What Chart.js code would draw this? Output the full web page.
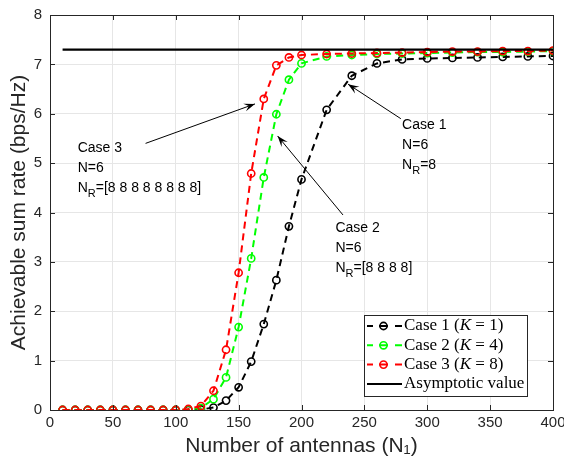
<!DOCTYPE html>
<html>
<head>
<meta charset="utf-8">
<script src="https://cdn.jsdelivr.net/npm/chart.js@4.4.1/dist/chart.umd.min.js"></script>
<style>
  html, body { margin: 0; padding: 0; background: #fff; }
  #wrap { width: 564px; height: 459px; }
</style>
</head>
<body>
<div id="wrap"><canvas id="chart" width="564" height="459"></canvas></div>
<script>
// number of antennas N1
var antennas = [10, 20, 30, 40, 50, 60, 70, 80, 90, 100, 110, 120, 130, 140, 150, 160, 170, 180, 190,
                200, 220, 240, 260, 280, 300, 320, 340, 360, 380, 400];

// achievable sum rate (bps/Hz)
var case1 = [0, 0, 0, 0, 0, 0, 0, 0, 0, 0, 0, 0.01, 0.05, 0.19, 0.46, 0.98, 1.74, 2.63, 3.72,
             4.67, 6.08, 6.77, 7.02, 7.10, 7.12, 7.13, 7.14, 7.15, 7.16, 7.17];
var case2 = [0, 0, 0, 0, 0, 0, 0, 0, 0, 0, 0.01, 0.04, 0.22, 0.66, 1.68, 3.07, 4.71, 5.99, 6.69,
             7.02, 7.16, 7.19, 7.21, 7.22, 7.23, 7.24, 7.25, 7.25, 7.26, 7.27];
var case3 = [0, 0, 0, 0, 0, 0, 0, 0, 0, 0, 0.02, 0.08, 0.39, 1.22, 2.78, 4.79, 6.30, 6.98, 7.14,
             7.19, 7.21, 7.22, 7.23, 7.24, 7.25, 7.26, 7.26, 7.27, 7.27, 7.28];
var asymptote = 7.30;

var seriesNames = ['Case 1 (K = 1)', 'Case 2 (K = 4)', 'Case 3 (K = 8)', 'Asymptotic value'];
var xTicks = [0, 50, 100, 150, 200, 250, 300, 350, 400];
var yTicks = [0, 1, 2, 3, 4, 5, 6, 7, 8];

function pts(vals) {
  return antennas.map(function (x, i) { return { x: x, y: vals[i] }; });
}

function dashed(label, vals, color, order) {
  return {
    label: label,
    data: pts(vals),
    borderColor: color,
    backgroundColor: 'rgba(0,0,0,0)',
    borderWidth: 2,
    borderDash: [7, 5],
    pointStyle: 'circle',
    pointRadius: 3.6,
    pointBorderWidth: 1.6,
    pointBorderColor: color,
    pointBackgroundColor: 'rgba(255,255,255,0)',
    tension: 0,
    order: order
  };
}

// MATLAB-like box, inner ticks, annotations and legend
var decorPlugin = {
  id: 'decor',
  afterDraw: function (chart) {
    var ctx = chart.ctx, a = chart.chartArea;
    var xs = chart.scales.x, ys = chart.scales.y;
    ctx.save();
    ctx.strokeStyle = '#262626';
    ctx.lineWidth = 1;
    ctx.strokeRect(a.left + 0.5, a.top + 0.5, a.right - a.left, a.bottom - a.top);
    xTicks.forEach(function (t) {
      var px = Math.round(xs.getPixelForValue(t)) + 0.5;
      ctx.beginPath();
      ctx.moveTo(px, a.bottom); ctx.lineTo(px, a.bottom - 5);
      ctx.moveTo(px, a.top); ctx.lineTo(px, a.top + 5);
      ctx.stroke();
    });
    yTicks.forEach(function (t) {
      var py = Math.round(ys.getPixelForValue(t)) + 0.5;
      ctx.beginPath();
      ctx.moveTo(a.left, py); ctx.lineTo(a.left + 5, py);
      ctx.moveTo(a.right, py); ctx.lineTo(a.right - 5, py);
      ctx.stroke();
    });

    // annotations
    function label(x, y, lines) {
      ctx.fillStyle = '#000';
      ctx.textBaseline = 'alphabetic';
      ctx.textAlign = 'left';
      ctx.font = '14px "Liberation Sans", Arial, sans-serif';
      ctx.fillText(lines[0], x, y);
      ctx.fillText('N=6', x, y + 20);
      ctx.fillText('N', x, y + 40);
      var w = ctx.measureText('N').width;
      ctx.font = '11px "Liberation Sans", Arial, sans-serif';
      ctx.fillText('R', x + w, y + 45);
      var w2 = ctx.measureText('R').width;
      ctx.font = '14px "Liberation Sans", Arial, sans-serif';
      ctx.fillText(lines[1], x + w + w2, y + 40);
    }
    function arrow(x1, y1, x2, y2) {
      ctx.strokeStyle = '#000';
      ctx.fillStyle = '#000';
      ctx.lineWidth = 1;
      ctx.beginPath();
      ctx.moveTo(x1, y1); ctx.lineTo(x2, y2);
      ctx.stroke();
      var ang = Math.atan2(y2 - y1, x2 - x1), L = 11, H = 4;
      ctx.beginPath();
      ctx.moveTo(x2, y2);
      ctx.lineTo(x2 - L * Math.cos(ang) + H * Math.sin(ang), y2 - L * Math.sin(ang) - H * Math.cos(ang));
      ctx.lineTo(x2 - 0.6 * L * Math.cos(ang), y2 - 0.6 * L * Math.sin(ang));
      ctx.lineTo(x2 - L * Math.cos(ang) - H * Math.sin(ang), y2 - L * Math.sin(ang) + H * Math.cos(ang));
      ctx.closePath();
      ctx.fill();
    }
    label(xs.getPixelForValue(280), ys.getPixelForValue(5.7), ['Case 1', '=8']);
    label(xs.getPixelForValue(227), ys.getPixelForValue(3.6), ['Case 2', '=[8 8 8 8]']);
    label(xs.getPixelForValue(22), ys.getPixelForValue(5.22), ['Case 3', '=[8 8 8 8 8 8 8 8]']);
    arrow(xs.getPixelForValue(279), ys.getPixelForValue(5.9), xs.getPixelForValue(237), ys.getPixelForValue(6.6));
    arrow(xs.getPixelForValue(233), ys.getPixelForValue(3.95), xs.getPixelForValue(181), ys.getPixelForValue(5.55));
    arrow(xs.getPixelForValue(76), ys.getPixelForValue(5.4), xs.getPixelForValue(163), ys.getPixelForValue(6.2));

    // legend box
    var bx = a.right - 189, by = a.bottom - 95, bw = 163, bh = 81;
    ctx.fillStyle = '#fff';
    ctx.fillRect(bx, by, bw, bh);
    ctx.strokeStyle = '#262626';
    ctx.lineWidth = 1;
    ctx.strokeRect(bx + 0.5, by + 0.5, bw, bh);
    var ds = chart.data.datasets;
    var serif = '"Liberation Serif", "DejaVu Serif", serif';
    var fs = '17px ';
    for (var i = 0; i < ds.length; i++) {
      var ry = by + 11 + i * 19.3;
      var c = ds[i].borderColor;
      ctx.strokeStyle = c;
      ctx.lineWidth = 2;
      ctx.beginPath();
      if (i < 3) {
        ctx.moveTo(bx + 3, ry); ctx.lineTo(bx + 9, ry);
        ctx.moveTo(bx + 31, ry); ctx.lineTo(bx + 38, ry);
        ctx.moveTo(bx + 15, ry); ctx.lineTo(bx + 24, ry);
        ctx.stroke();
        ctx.lineWidth = 1.6;
        ctx.beginPath();
        ctx.arc(bx + 19.5, ry, 3.6, 0, Math.PI * 2);
        ctx.stroke();
      } else {
        ctx.moveTo(bx + 3, ry); ctx.lineTo(bx + 38, ry);
        ctx.stroke();
      }
      ctx.fillStyle = '#000';
      ctx.textBaseline = 'middle';
      var tx = bx + 40;
      if (i < 3) {
        var parts = seriesNames[i].split('K');
        ctx.font = fs + serif;
        ctx.fillText(parts[0], tx, ry);
        tx += ctx.measureText(parts[0]).width;
        ctx.font = 'italic ' + fs + serif;
        ctx.fillText('K', tx, ry);
        tx += ctx.measureText('K').width;
        ctx.font = fs + serif;
        ctx.fillText(parts[1], tx, ry);
      } else {
        ctx.font = fs + serif;
        ctx.fillText(seriesNames[i], tx, ry);
      }
    }
    ctx.restore();
  }
};

var ctx = document.getElementById('chart').getContext('2d');
new Chart(ctx, {
  type: 'line',
  data: {
    datasets: [
      dashed(seriesNames[0], case1, '#000000', 3),
      dashed(seriesNames[1], case2, '#00ff00', 2),
      dashed(seriesNames[2], case3, '#ff0000', 1),
      {
        label: seriesNames[3],
        data: [{ x: antennas[0], y: asymptote }, { x: antennas[antennas.length - 1], y: asymptote }],
        borderColor: '#000000',
        borderWidth: 2.2,
        pointRadius: 0,
        order: 0
      }
    ]
  },
  options: {
    responsive: false,
    animation: false,
    layout: { padding: { top: 15, right: 11, left: 7, bottom: 0 } },
    plugins: {
      legend: { display: false },
      tooltip: { enabled: false }
    },
    scales: {
      x: {
        type: 'linear',
        min: 0, max: 400,
        afterBuildTicks: function (s) { s.ticks = xTicks.map(function (v) { return { value: v }; }); },
        afterFit: function (s) { s.height = 49; s.paddingRight = 0; s.paddingLeft = 0; },
        grid: { color: '#e6e6e6', drawTicks: false },
        border: { display: false },
        ticks: { color: '#262626', padding: 4, maxRotation: 0, font: { family: '"Liberation Sans", Arial, sans-serif', size: 15 } },
        title: {
          display: true,
          text: 'Number of antennas (N\u2081)',
          color: '#262626',
          padding: { top: -2, bottom: 0 },
          font: { family: '"Liberation Sans", Arial, sans-serif', size: 21 }
        }
      },
      y: {
        min: 0, max: 8,
        afterBuildTicks: function (s) { s.ticks = yTicks.map(function (v) { return { value: v }; }); },
        afterFit: function (s) { s.width = 43; s.paddingTop = 0; s.paddingBottom = 0; },
        grid: { color: '#e6e6e6', drawTicks: false },
        border: { display: false },
        ticks: { color: '#262626', padding: 8, font: { family: '"Liberation Sans", Arial, sans-serif', size: 15 } },
        title: {
          display: true,
          text: 'Achievable sum rate (bps/Hz)',
          color: '#262626',
          padding: { top: 0, bottom: 2 },
          font: { family: '"Liberation Sans", Arial, sans-serif', size: 21 }
        }
      }
    }
  },
  plugins: [decorPlugin]
});
</script>
</body>
</html>
